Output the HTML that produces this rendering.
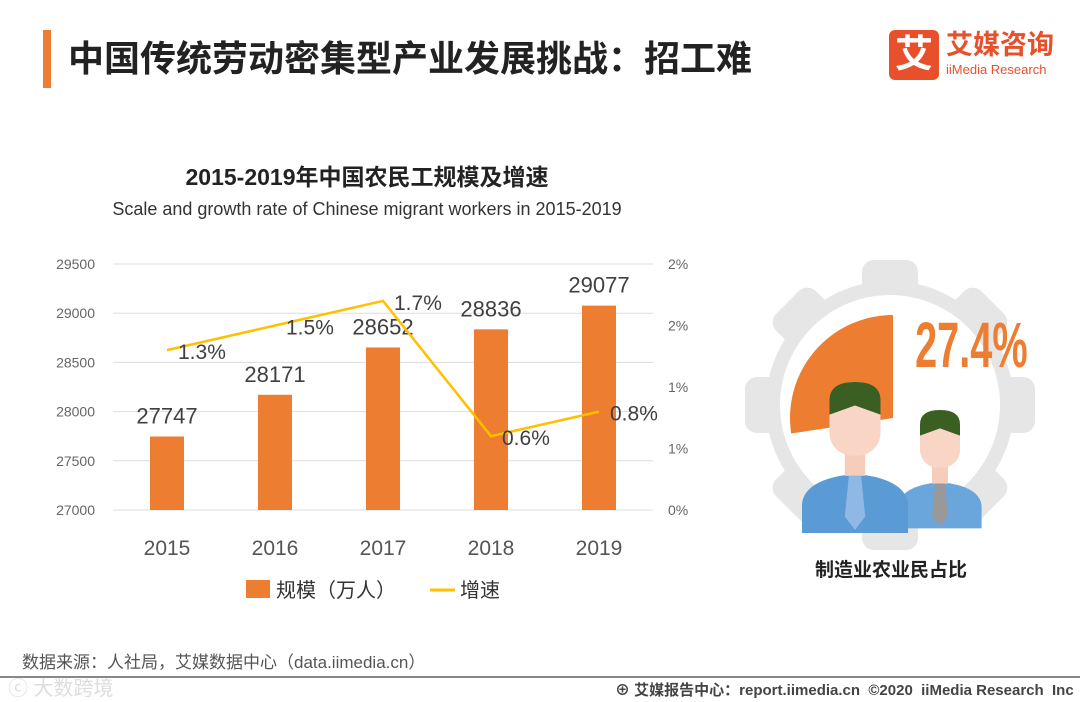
<!DOCTYPE html>
<html><head><meta charset="utf-8"><style>
body{margin:0;width:1080px;height:702px;background:#fff;font-family:"Liberation Sans","Noto Sans CJK SC",sans-serif;position:relative;overflow:hidden}
.abs{position:absolute}
</style></head><body>
<div class="abs" style="left:43px;top:30px;width:8px;height:58px;background:#ed7d31"></div>
<div class="abs" style="left:68px;top:30px;font-size:36px;font-weight:bold;color:#222">中国传统劳动密集型产业发展挑战：招工难</div>
<div class="abs" style="left:889px;top:30px;width:50px;height:50px;background:#e8502c;border-radius:6px;color:#fff;font-size:38px;font-weight:bold;text-align:center;line-height:50px">艾</div>
<div class="abs" style="left:946px;top:30px;color:#e8502c;font-size:27px;font-weight:bold;line-height:30px">艾媒咨询</div>
<div class="abs" style="left:946px;top:62px;color:#e8502c;font-size:13px">iiMedia Research</div>
<div class="abs" style="left:0;width:734px;top:158px;text-align:center;font-size:23px;font-weight:bold;color:#222">2015-2019年中国农民工规模及增速</div>
<div class="abs" style="left:0;width:734px;top:199px;text-align:center;font-size:18px;color:#333">Scale and growth rate of Chinese migrant workers in 2015-2019</div>
<svg class="abs" style="left:0;top:0" width="1080" height="702" id="chart"></svg>
<div class="abs" style="left:815px;top:555px;font-size:19px;font-weight:bold;color:#222">制造业农业民占比</div>
<div class="abs" style="left:22px;top:648px;font-size:17px;color:#555">数据来源：人社局，艾媒数据中心（data.iimedia.cn）</div>
<div class="abs" style="left:0;top:676px;width:1080px;height:2px;background:#888"></div>
<div class="abs" style="left:8px;top:672px;font-size:20px;color:#ddd">ⓒ 大数跨境</div>
<div class="abs" style="left:615px;top:679px;font-size:15px;color:#444;font-weight:bold">⊕ 艾媒报告中心：report.iimedia.cn &nbsp;©2020 &nbsp;iiMedia Research &nbsp;Inc</div>
<script>
const categories=["2015","2016","2017","2018","2019"];
const scaleValues=[27747,28171,28652,28836,29077];
const growthValues=[1.3,1.5,1.7,0.6,0.8];
const leftTicks=[27000,27500,28000,28500,29000,29500];
const rightTicks=[0,0.5,1,1.5,2];
const rightTickLabels=["0%","1%","1%","2%","2%"];
const NS="http://www.w3.org/2000/svg";
const svg=document.getElementById('chart');
function mk(t,a,txt){const e=document.createElementNS(NS,t);for(const k in a)e.setAttribute(k,a[k]);if(txt!=null)e.textContent=txt;svg.appendChild(e);return e;}
const x0=113,x1=653,yTop=264,yBot=510;
const yL=v=>yBot-(v-27000)/2500*(yBot-yTop);
const yR=v=>yBot-v/2*(yBot-yTop);
const xC=i=>167+i*108;
leftTicks.forEach(t=>{
 const g=mk('line',{x1:x0,x2:x1,y1:yL(t),y2:yL(t),stroke:'#ddd','stroke-width':1});
 
 const l=mk('text',{x:95,y:yL(t)+5,'text-anchor':'end','font-size':14,fill:'#666'},t);
 
});
rightTicks.forEach((t,i)=>{
 const l=mk('text',{x:668,y:yR(t)+5,'font-size':14,fill:'#666'},rightTickLabels[i]);
 
});
categories.forEach((c,i)=>{
 const b=mk('rect',{x:xC(i)-17,y:yL(scaleValues[i]),width:34,height:yBot-yL(scaleValues[i]),fill:'#ed7d31'});
 
 const v=mk('text',{x:xC(i),y:yL(scaleValues[i])-13,'text-anchor':'middle','font-size':22,fill:'#404040'},scaleValues[i]);
 
 const l=mk('text',{x:xC(i),y:555,'text-anchor':'middle','font-size':21,fill:'#555'},c);
 
});
const pts=growthValues.map((v,i)=>xC(i)+','+yR(v)).join(' ');
const ln=mk('polyline',{points:pts,fill:'none',stroke:'#ffc000','stroke-width':2.5});

growthValues.forEach((v,i)=>{
 const t=mk('text',{x:xC(i)+11,y:yR(v)+9,'font-size':21,fill:'#404040'},v.toFixed(1)+'%');
 
});
const lg1=mk('rect',{x:246,y:580,width:24,height:18,fill:'#ed7d31'});

const lt1=mk('text',{x:276,y:597,'font-size':20,fill:'#333'},'规模（万人）');

const lg2=mk('line',{x1:430,x2:455,y1:590,y2:590,stroke:'#ffc000','stroke-width':3});

const lt2=mk('text',{x:460,y:597,'font-size':20,fill:'#333'},'增速');

const cx=890,cy=405;
for(let k=0;k<8;k++){const r=mk('rect',{x:cx-28,y:cy-145,width:56,height:60,rx:12,fill:'#e6e6e6',transform:`rotate(${k*45} ${cx} ${cy})`});}
const gr=mk('circle',{cx,cy,r:124,fill:'#e6e6e6'});
const wc=mk('circle',{cx,cy,r:110,fill:'#fff'});
const pcx=893,pcy=418,pr=103,ang=27.4/100*2*Math.PI;
const ex=pcx-pr*Math.sin(ang),ey=pcy-pr*Math.cos(ang);
const pie=mk('path',{d:`M${pcx},${pcy} L${pcx},${pcy-pr} A${pr},${pr} 0 0 0 ${ex},${ey} Z`,fill:'#ed7d31'});

const pt=mk('text',{x:1476,y:367,'font-size':64,'font-weight':'bold',fill:'#ed7d31',transform:'scale(0.62,1)'},'27.4%');

function person(px,top,s,shirt,tie,nm){
 const g=document.createElementNS(NS,'g');svg.appendChild(g);
 const add=(t,a)=>{const e=document.createElementNS(NS,t);for(const k in a)e.setAttribute(k,a[k]);g.appendChild(e);};
 add('path',{d:`M${px-52*s},${top+148*s} L${px-52*s},${top+120*s} Q${px-50*s},${top+95*s} ${px},${top+90*s} Q${px+50*s},${top+95*s} ${px+52*s},${top+120*s} L${px+52*s},${top+148*s} Z`,fill:shirt});
 add('rect',{x:px-10*s,y:top+60*s,width:20*s,height:32*s,fill:'#f6cdbb'});
 add('rect',{x:px-25*s,y:top,width:50*s,height:72*s,rx:22*s,fill:'#f9d5c5'});
 add('path',{d:`M${px-25*s},${top+32*s} L${px-25*s},${top+18*s} Q${px-25*s},${top} ${px},${top} Q${px+25*s},${top} ${px+25*s},${top+18*s} L${px+25*s},${top+32*s} L${px},${top+23*s} Z`,fill:'#3b5e22'});
 add('path',{d:`M${px-6*s},${top+92*s} L${px+6*s},${top+92*s} L${px+10*s},${top+132*s} L${px},${top+145*s} L${px-10*s},${top+132*s} Z`,fill:tie});
}
person(940,410,0.8,'#6aa6dc','#999','person-small');
person(855,382,1.02,'#5b9bd5','#8fb8e6','person-large');
</script>
</body></html>
